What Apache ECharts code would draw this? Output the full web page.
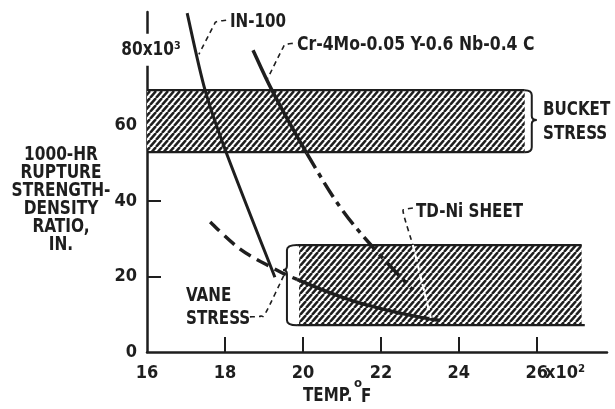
<!DOCTYPE html>
<html><head><meta charset="utf-8">
<script src="https://cdn.jsdelivr.net/npm/echarts@6/dist/echarts.min.js"></script>
<style>html,body{margin:0;padding:0;background:#fff}#c{width:615px;height:409px}</style>
</head><body><div id="c"></div>
<script>
// ---- data ----
const xTickValues = [16, 18, 20, 22, 24, 26];
const yTickValues = [0, 20, 40, 60];
const yTopLabelValue = 80;
const in100X = [17.03, 17.49, 18.03, 19.28];
const in100Y = [89.7, 69.3, 52.9, 19.8];
const crX = [18.72, 19.23, 20.10, 20.95, 21.79, 22.82];
const crY = [79.9, 68.8, 52.6, 38.4, 27.8, 16.4];
const tdX = [17.62, 18.38, 19.2, 19.85, 21.2, 22.49, 23.51];
const tdY = [34.4, 27.3, 22.4, 19.2, 13.8, 10.3, 8.3];
// stress bands: [xStart, xEnd, yLow, yHigh]
const bucketBand = [16, 25.69, 52.9, 69.3];
const vaneBand = [19.9, 27.15, 7.1, 28.3];
// braces: [endX, bodyX, tipX, yTop, yTip, yBottom]
const bucketBrace = [25.69, 25.87, 26.0, 69.3, 61.4, 52.9];
const vaneBrace = [19.85, 19.59, 19.49, 28.3, 21.7, 7.1];
// leader lines
const in100LeaderX = [18.03, 17.78, 17.70, 17.33];
const in100LeaderY = [87.8, 87.4, 86.2, 78.8];
const crLeaderX = [19.74, 19.55, 19.47, 19.1];
const crLeaderY = [81.7, 81.3, 80.2, 72.5];
const tdLeaderX = [22.82, 22.62, 22.58, 22.82];
const tdLeaderY = [38.1, 37.7, 36.6, 28.3];
const tdLeaderInX = [22.82, 23.28];
const tdLeaderInY = [28.3, 9.0];
const vaneLeaderX = [18.64, 18.92, 19.05, 19.52];
const vaneLeaderY = [9.3, 9.5, 10.5, 20.5];

const INK = '#1e1e1e';
const FONT = "'DejaVu Sans Condensed','Liberation Sans Narrow',sans-serif";

function hatch() {
  const c = document.createElement('canvas');
  const w = 6, h = 7; c.width = w; c.height = h;
  const g = c.getContext('2d');
  g.fillStyle = '#fff'; g.fillRect(0, 0, w, h);
  g.strokeStyle = INK; g.lineWidth = 2.5;
  for (const o of [-w, 0, w]) { g.beginPath(); g.moveTo(o, h); g.lineTo(o + w, 0); g.stroke(); }
  return c;
}
const pattern = { image: hatch(), repeat: 'repeat' };

function splinePath(p, from, to) {
  let d = `M${p[from][0]},${p[from][1]}`;
  for (let i = from; i < to; i++) {
    const p0 = p[Math.max(i - 1, 0)], p1 = p[i], p2 = p[i + 1], p3 = p[Math.min(i + 2, p.length - 1)];
    const c1 = [p1[0] + (p2[0] - p0[0]) / 6, p1[1] + (p2[1] - p0[1]) / 6];
    const c2 = [p2[0] - (p3[0] - p1[0]) / 6, p2[1] - (p3[1] - p1[1]) / 6];
    d += ` C${c1[0]},${c1[1]} ${c2[0]},${c2[1]} ${p2[0]},${p2[1]}`;
  }
  return d;
}

function curveSeries(xs, ys, from, to, width, dash, color, z) {
  return {
    type: 'custom', silent: true, animation: false, z: z || 5, clip: false,
    data: [[xs[0], ys[0]]],
    renderItem: function (params, api) {
      const px = xs.map((x, i) => api.coord([x, ys[i]]));
      return {
        type: 'path', shape: { pathData: splinePath(px, from, to) },
        style: { fill: null, stroke: color || INK, lineWidth: width, lineDash: dash || null, lineCap: 'butt', lineJoin: 'round' }
      };
    }
  };
}

function segSeries(pts, width, z) {
  return {
    type: 'line', data: pts, symbol: 'none', silent: true, animation: false, z: z || 4,
    lineStyle: { color: INK, width: width, type: 'solid' }
  };
}

function braceSeries(b) {
  return {
    type: 'custom', z: 6, silent: true, animation: false, clip: false,
    data: [b],
    encode: { x: 0, y: 3 },
    renderItem: function (params, api) {
      const end = api.coord([b[0], b[3]]);
      const body = api.coord([b[1], b[4]]);
      const tip = api.coord([b[2], b[4]]);
      const bot = api.coord([b[0], b[5]]);
      const ex = end[0], bx = body[0], tx = tip[0], yt = end[1], ym = tip[1], yb = bot[1];
      const r = 5, s = 4;
      const p = `M${ex},${yt} Q${bx},${yt} ${bx},${yt + r} L${bx},${ym - s} Q${bx},${ym} ${tx},${ym} Q${bx},${ym} ${bx},${ym + s} L${bx},${yb - r} Q${bx},${yb} ${ex},${yb}`;
      return { type: 'path', shape: { pathData: p }, style: { fill: null, stroke: INK, lineWidth: 2 } };
    }
  };
}

function bandSeries(b) {
  return {
    type: 'line', data: [], silent: true, animation: false, z: 2,
    markArea: {
      silent: true,
      itemStyle: { color: pattern, borderWidth: 0 },
      data: [[{ coord: [b[0], b[2]] }, { coord: [b[1], b[3]] }]]
    }
  };
}

const chart = echarts.init(document.getElementById('c'), null, { renderer: 'canvas' });
const txt = (t, x, y, align, size, sx) => ({
  type: 'text', x: x, y: y, z: 50, scaleX: sx || 0.84,
  style: { text: t, font: `bold ${size || 20}px ${FONT}`, fill: INK, align: align || 'left', verticalAlign: 'middle' }
});

chart.setOption({
  backgroundColor: '#fff',
  animation: false,
  grid: { left: 147, right: 8, top: 12, bottom: 57 },
  xAxis: {
    type: 'value', min: 16, max: 27.8,
    axisLine: { lineStyle: { color: INK, width: 2.5 } },
    axisTick: { inside: true, length: 15, lineStyle: { color: INK, width: 2 }, customValues: [18, 20, 22, 24, 26] },
    axisLabel: {
      customValues: xTickValues, margin: 12, color: INK,
      fontFamily: FONT, fontWeight: 'bold', fontSize: 18,
      formatter: v => v === 26 ? '{p|}{n|26}{e|x10²}' : String(v),
      rich: {
        p: { width: 34 }, n: { fontFamily: FONT, fontWeight: 'bold', fontSize: 18, color: INK },
        e: { width: 34, align: 'left', fontFamily: FONT, fontWeight: 'bold', fontSize: 18, color: INK }
      }
    },
    splitLine: { show: false }
  },
  yAxis: {
    type: 'value', min: 0, max: 90,
    axisLine: { show: true, lineStyle: { color: INK, width: 2.5 } },
    axisTick: { show: true, inside: true, length: 14, lineStyle: { color: INK, width: 2 }, customValues: [20, 40, 60] },
    axisLabel: {
      customValues: yTickValues, margin: 10, color: INK,
      fontFamily: FONT, fontWeight: 'bold', fontSize: 18
    },
    splitLine: { show: false }
  },
  graphic: [
    txt('IN-100', 230, 22),
    txt('Cr-4Mo-0.05 Y-0.6 Nb-0.4 C', 297, 45, 'left', 20, 0.87),
    txt('BUCKET', 543, 110),
    txt('STRESS', 543, 134),
    txt('TD-Ni SHEET', 416, 212),
    txt('VANE', 186, 296),
    txt('STRESS', 186, 319),
    txt('1000-HR', 61, 155, 'center', 19, 0.9),
    txt('RUPTURE', 61, 173, 'center', 19, 0.9),
    txt('STRENGTH-', 61, 191, 'center', 19, 0.9),
    txt('DENSITY', 61, 209, 'center', 19, 0.9),
    txt('RATIO,', 61, 227, 'center', 19, 0.9),
    txt('IN.', 61, 245, 'center', 19, 0.9),
    txt('TEMP.', 303, 396),
    txt('o', 354, 384, 'left', 13, 1),
    txt('F', 361, 397)
  ],
  series: [
    bandSeries(bucketBand),
    bandSeries(vaneBand),
    segSeries([[bucketBand[0], bucketBand[3]], [bucketBand[1], bucketBand[3]]], 2.2),
    segSeries([[bucketBand[0], bucketBand[2]], [bucketBand[1], bucketBand[2]]], 2.2),
    segSeries([[vaneBand[0] - 0.05, vaneBand[3]], [vaneBand[1], vaneBand[3]]], 2.2),
    segSeries([[vaneBand[0] - 0.05, vaneBand[2]], [vaneBand[1] + 0.08, vaneBand[2]]], 2.2),
    braceSeries(bucketBrace),
    braceSeries(vaneBrace),
    // curves
    curveSeries(in100X, in100Y, 0, in100X.length - 1, 3),
    curveSeries(crX, crY, 0, 2, 3.5),
    curveSeries(crX, crY, 2, crX.length - 1, 3.5, [17, 6, 5, 6]),
    curveSeries(tdX, tdY, 0, 3, 3.5, [13, 7]),
    curveSeries(tdX, tdY, 3, tdX.length - 1, 3.5),
    // leaders
    curveSeries(in100LeaderX, in100LeaderY, 0, 3, 1.6, [5, 4], INK, 7),
    curveSeries(crLeaderX, crLeaderY, 0, 3, 1.6, [5, 4], INK, 7),
    curveSeries(tdLeaderX, tdLeaderY, 0, 3, 1.6, [5, 4], INK, 7),
    curveSeries(tdLeaderInX, tdLeaderInY, 0, 1, 2.2, [7, 3], '#ffffff', 7),
    curveSeries(vaneLeaderX, vaneLeaderY, 0, 3, 1.6, [5, 4], INK, 7)
  ]
});

// "80x10³" label centred on the y axis line, placed through the axis scale
const p80 = chart.convertToPixel({ gridIndex: 0 }, [16, yTopLabelValue]);
chart.setOption({
  graphic: [{
    id: 'y80', type: 'text', x: p80[0] + 4, y: p80[1], z: 60, scaleX: 0.9,
    style: {
      text: '80x10³', font: `bold 19px ${FONT}`, fill: INK, align: 'center', verticalAlign: 'middle',
      backgroundColor: '#fff', padding: [7, 2, 6, 2]
    }
  }]
});
</script>
</body></html>
